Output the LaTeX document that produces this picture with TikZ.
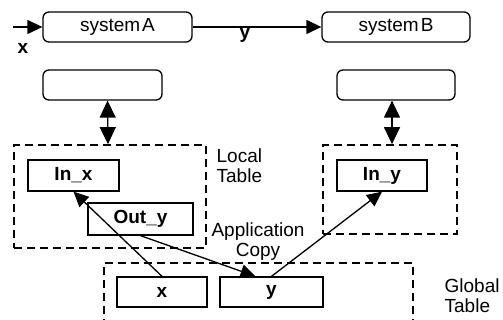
\documentclass[tikz,border=0pt]{standalone}
\usepackage{fontspec}
\setmainfont{Liberation Sans}
\usetikzlibrary{arrows.meta}

\begin{document}
\begin{tikzpicture}[x=1pt,y=-1pt,line width=1.3pt,font=\fontsize{19}{20}\selectfont,
	tip/.style={-{Triangle[length=15pt,width=14pt]}},
	dbl/.style={{Triangle[length=17pt,width=16pt]}-{Triangle[length=17pt,width=16pt]}},
	tbl/.style={draw,dash pattern=on 8pt off 5pt,line width=1.7pt,inner sep=0pt}]

	\clip (0,0) rectangle (503,320);

	\begin{scope}[every node/.style={draw,rounded corners=6pt,minimum height=30pt,inner sep=0pt}]
		\node (sysA) at (117.5,27) [minimum width=149pt] {system\hspace{2pt}A};
		\node (sysB) at (396,27) [minimum width=148pt] {system\hspace{2pt}B};
		\node (boxA) at (102.5,85) [minimum width=119pt] {};
		\node (boxB) at (396,85) [minimum width=118pt] {};
	\end{scope}

	\node (localA) at (110,196.5) [tbl,minimum width=192pt,minimum height=103pt] {};
	\node (localB) at (390,189.5) [tbl,minimum width=134pt,minimum height=89pt] {};
	\node (global) at (258.5,303) [tbl,minimum width=309pt,minimum height=80pt] {};

	\begin{scope}[every node/.style={draw,fill=white,font=\fontsize{19}{20}\selectfont\bfseries,minimum height=31pt,inner sep=0pt}]
		\node (inx) at (73.5,175.5) [minimum width=91pt] {In\_x};
		\node (outy) at (140.5,219) [minimum width=105pt,minimum height=32pt] {Out\_y};
		\node (iny) at (382,175.5) [minimum width=90pt] {In\_y};
		\node (gx) at (162,292) [minimum width=90pt,minimum height=30pt] {x};
		\node (gy) at (271.5,292) [minimum width=103pt,minimum height=30pt] {y};
	\end{scope}

	\coordinate (xin) at (13,27);
	\draw[tip] (xin) -- (sysA);
	\draw[tip] (sysA) -- (sysB);
	\node (xlab) at (23,48) {\bfseries x};
	\node (ylab) at (245,35) {\bfseries y};

	\draw[dbl] ([xshift=5pt]boxA.south) -- ([xshift=-2pt]localA.north);
	\draw[dbl] ([xshift=-4pt]boxB.south) -- ([xshift=2pt]localB.north);

	\draw[tip] (gx.north) -- (inx.south);
	\draw[tip] (outy.south) -- ([xshift=-16pt]gy.north);
	\draw[tip] (gy.north) -- (iny.south);

	\node (loclab) at (216,166) [anchor=west,align=left,inner sep=0pt] {Local\\Table};
	\node (applab) at (258,242) [align=center,inner sep=0pt] {Application\\Copy};
	\node (glolab) at (444,296) [anchor=west,align=left,inner sep=0pt] {Global\\Table};

\end{tikzpicture}
\end{document}
